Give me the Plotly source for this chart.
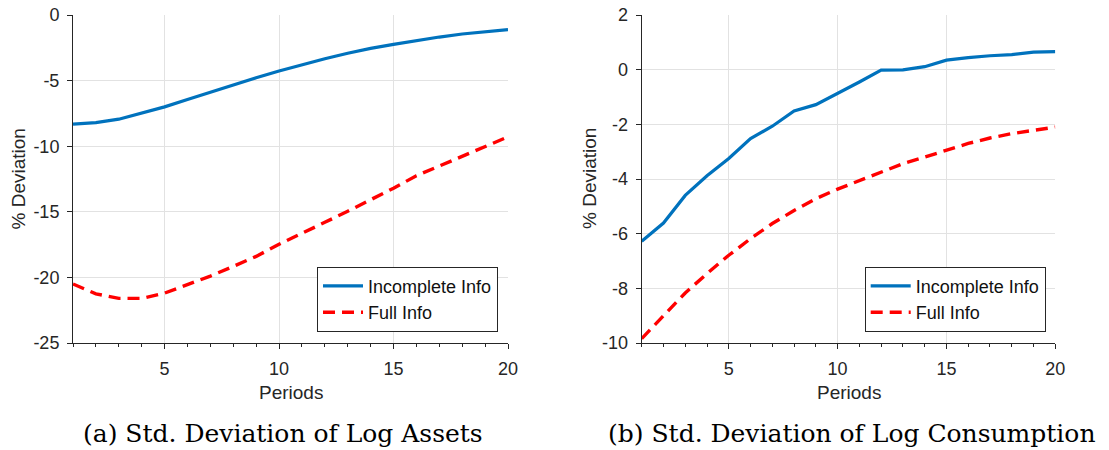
import plotly.graph_objects as go

# Impulse responses over 20 periods
periods = list(range(1, 21))

assets_incomplete = [-8.32, -8.2, -7.94, -7.5, -7.0, -6.44, -5.88, -5.32, -4.79, -4.27,
                     -3.77, -3.33, -2.92, -2.54, -2.24, -1.93, -1.68, -1.45, -1.27, -1.12]
assets_full = [-20.5, -21.25, -21.6, -21.6, -21.2, -20.56, -19.9, -19.16, -18.4, -17.48,
               -16.67, -15.8, -14.96, -14.1, -13.2, -12.25, -11.5, -10.76, -10.05, -9.29]

cons_incomplete = [-6.28, -5.61, -4.6, -3.88, -3.25, -2.52, -2.07, -1.51, -1.28, -0.88,
                   -0.45, -0.02, -0.01, 0.11, 0.35, 0.44, 0.51, 0.55, 0.64, 0.66]
cons_full = [-9.84, -9.02, -8.17, -7.46, -6.79, -6.18, -5.63, -5.15, -4.72, -4.37,
             -4.05, -3.74, -3.44, -3.2, -2.95, -2.7, -2.5, -2.34, -2.22, -2.1]

x_ticks = [5, 10, 15, 20]
assets_yticks = [0, -5, -10, -15, -20, -25]
cons_yticks = [2, 0, -2, -4, -6, -8, -10]

captions = ["(a) Std. Deviation of Log Assets", "(b) Std. Deviation of Log Consumption"]

BLUE = "#0072BD"
RED = "#FF0000"
AXIS = "#262626"
GRID = "#e2e2e2"
SANS = "Liberation Sans, Arial, sans-serif"

W, H = 1109, 450
fig = go.Figure()

panels = [
    ("x", "y", "legend", assets_incomplete, assets_full),
    ("x2", "y2", "legend2", cons_incomplete, cons_full),
]
for xa, ya, lg, inc, full in panels:
    fig.add_trace(go.Scatter(x=periods, y=inc, xaxis=xa, yaxis=ya, mode="lines",
                             name="Incomplete Info", legend=lg,
                             line=dict(color=BLUE, width=3.2)))
    fig.add_trace(go.Scatter(x=periods, y=full, xaxis=xa, yaxis=ya, mode="lines",
                             name="Full Info", legend=lg,
                             line=dict(color=RED, width=3.4, dash="12px,7px")))

def xaxis(domain, anchor):
    return dict(domain=domain, anchor=anchor, range=[1, 20], tickvals=x_ticks,
                ticktext=[str(v) for v in x_ticks], automargin=False,
                showgrid=True, gridcolor=GRID, gridwidth=1, zeroline=False,
                showline=True, linecolor=AXIS, linewidth=1,
                ticks="outside", ticklen=5, tickcolor=AXIS, tickwidth=1,
                ticklabelstandoff=4,
                minor=dict(dtick=1, tick0=1, ticks="outside", ticklen=3,
                           tickcolor=AXIS, showgrid=False),
                tickfont=dict(family=SANS, size=18, color=AXIS))

def yaxis(domain, anchor, rng, vals):
    # plain hyphen for negative labels
    return dict(domain=domain, anchor=anchor, range=rng, tickvals=vals,
                ticktext=[str(v) for v in vals], automargin=False,
                showgrid=True, gridcolor=GRID, gridwidth=1, zeroline=False,
                showline=True, linecolor=AXIS, linewidth=1,
                ticks="outside", ticklen=5, tickcolor=AXIS, tickwidth=1,
                ticklabelstandoff=4,
                tickfont=dict(family=SANS, size=18, color=AXIS))

ydom = [1 - 343 / H, 1 - 15 / H]
xdom1 = [73 / W, 508 / W]
xdom2 = [641.7 / W, 1055.3 / W]

legend_style = dict(bgcolor="white", bordercolor=AXIS, borderwidth=1,
                    font=dict(family=SANS, size=18, color="#111111"),
                    xanchor="right", yanchor="bottom", tracegroupgap=0,
                    itemwidth=40)

annotations = []
for dom in (xdom1, xdom2):
    cx = (dom[0] + dom[1]) / 2
    annotations.append(dict(text="Periods", x=cx, y=1 - 392 / H, xref="paper", yref="paper",
                            showarrow=False, xanchor="center", yanchor="middle",
                            font=dict(family=SANS, size=19, color=AXIS)))
for px in (17.5, 589):
    annotations.append(dict(text="% Deviation", x=px / W, y=1 - 179 / H, xref="paper",
                            yref="paper", showarrow=False, textangle=-90,
                            xanchor="center", yanchor="middle",
                            font=dict(family=SANS, size=19, color=AXIS)))
for cap, px in zip(captions, (282.5, 851.5)):
    annotations.append(dict(text=cap, x=px / W, y=1 - 433 / H, xref="paper", yref="paper",
                            showarrow=False, xanchor="center", yanchor="middle",
                            font=dict(family="DejaVu Serif, serif", size=25, color="black")))

fig.update_layout(
    width=W, height=H, margin=dict(l=0, r=0, t=0, b=0, autoexpand=False),
    paper_bgcolor="white", plot_bgcolor="white",
    xaxis=xaxis(xdom1, "y"),
    yaxis=yaxis(ydom, "x", [-25, 0], assets_yticks),
    xaxis2=xaxis(xdom2, "y2"),
    yaxis2=yaxis(ydom, "x2", [-10, 2], cons_yticks),
    legend=dict(x=498 / W, y=1 - 331.7 / H, **legend_style),
    legend2=dict(x=1045.7 / W, y=1 - 331.7 / H, **legend_style),
    annotations=annotations,
)

fig.write_html("out.html")
